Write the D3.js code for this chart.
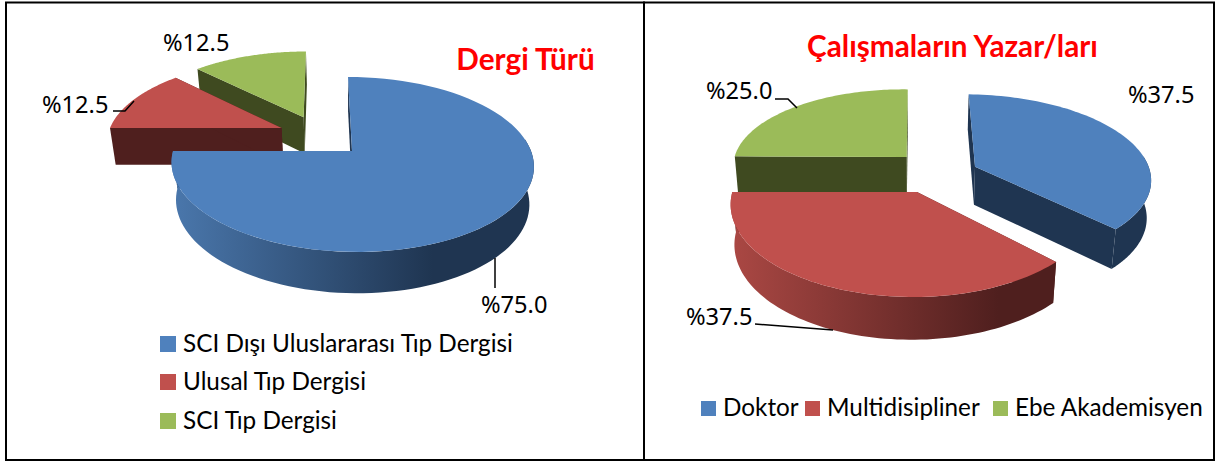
<!DOCTYPE html>
<html><head><meta charset="utf-8">
<script src="https://cdn.jsdelivr.net/npm/d3@7"></script>
<style>html,body{margin:0;padding:0;background:#fff}svg{display:block}</style>
</head><body><svg id="c" width="1215" height="461"></svg>
<script>
// ---- data ----
const leftCategories = ["SCI Dışı Uluslararası Tıp Dergisi", "Ulusal Tıp Dergisi", "SCI Tıp Dergisi"];
const leftValues = [75.0, 12.5, 12.5];
const rightCategories = ["Doktor", "Multidisipliner", "Ebe Akademisyen"];
const rightValues = [37.5, 37.5, 25.0];
const leftTitle = "Dergi Türü";
const rightTitle = "Çalışmaların Yazar/ları";
const valueFormat = v => "%" + d3.format(".1f")(v);

// ---- palette ----
const tops = ["#4F81BD", "#C0504D", "#9BBB59"];
const lights = ["#4A77AC", "#A94743", "#8aa650"];
const darks = ["#1F3551", "#4F1F1E", "#3F4A20"];

const font = "Lato, 'Open Sans', sans-serif";
const labelFont = "'Noto Sans', 'Open Sans', sans-serif";
const svg = d3.select("#c");
const defs = svg.append("defs");

// frames
[[6, 2.5, 638, 457.5], [644, 2.5, 570, 457.5]].forEach(([x, y, w, h]) =>
  svg.append("rect").attr("x", x).attr("y", y).attr("width", w).attr("height", h)
    .attr("fill", "none").attr("stroke", "#000").attr("stroke-width", 2));

const pieGen = d3.pie().sort(null).value(d => d);
const lineGen = d3.line();

function drawPie3D(id, values, cfg) {
  const arcs = pieGen(values);
  const project = (x, y, z) => {
    const w = 1 - cfg.k * y + cfg.j * x + cfg.m * z;
    return [cfg.cx + (cfg.R * x + cfg.skew * y) / w, cfg.cy + (cfg.S * y + cfg.H * z) / w];
  };
  const gid = i => `${id}-wall-${i}`;
  arcs.forEach((a, i) => {
    const g = defs.append("linearGradient").attr("id", gid(i)).attr("gradientUnits", "userSpaceOnUse")
      .attr("x1", cfg.cx - cfg.R).attr("x2", cfg.cx + cfg.R * 0.45).attr("y1", 0).attr("y2", 0);
    g.append("stop").attr("offset", 0).attr("stop-color", lights[i]);
    g.append("stop").attr("offset", 1).attr("stop-color", darks[i]);
  });
  cfg.order.forEach(i => {
    const a = arcs[i], e = cfg.slices[i];
    const point = (t, r, z) => project(e.ox + r * e.sx * Math.sin(t), e.oy - r * e.sy * Math.cos(t), z);
    const rim = (t0, t1, z) => d3.range(0, 81).map(n => point(t0 + (t1 - t0) * n / 80, 1, z));
    const g = svg.append("g").attr("class", "slice");
    // inner faces
    [a.startAngle, a.endAngle].forEach(t => {
      g.append("path").attr("fill", darks[i])
        .attr("d", lineGen([point(t, 0, 0), point(t, 1, 0), point(t, 1, 1), point(t, 0, 1)]) + "Z");
    });
    // outer wall, front-facing part only
    const w0 = Math.max(a.startAngle, 82 * Math.PI / 180), w1 = Math.min(a.endAngle, 270 * Math.PI / 180);
    if (w1 > w0) {
      g.append("path").attr("fill", `url(#${gid(i)})`)
        .attr("d", lineGen(rim(w0, w1, 0).concat(rim(w0, w1, 1).reverse())) + "Z");
    }
    // top surface
    g.append("path").attr("fill", tops[i])
      .attr("d", lineGen([point(a.startAngle, 0, 0)].concat(rim(a.startAngle, a.endAngle, 0))) + "Z");
  });
}

drawPie3D("L", leftValues, {
  cx: 352, cy: 151, R: 179, S: 85.4, H: 38.5, k: 0.154, j: 0, m: 0.025, skew: 4.6,
  order: [2, 1, 0],
  slices: [{ ox: 0, oy: 0, sx: 1, sy: 1 }, { ox: -0.403, oy: -0.28, sx: 1, sy: 1 }, { ox: -0.277, oy: -0.42, sx: 1, sy: 1 }]
});
drawPie3D("R", rightValues, {
  cx: 917, cy: 192, R: 181, S: 91, H: 40, k: 0.133, j: 0.02, m: 0.02, skew: 0,
  order: [2, 0, 1],
  slices: [{ ox: 0.335, oy: -0.29, sx: 1.03, sy: 0.97 }, { ox: 0, oy: 0, sx: 1, sy: 1 }, { ox: -0.06, oy: -0.405, sx: 0.98, sy: 0.92 }]
});

// leader lines
const leaders = [
  [[495, 258], [495, 288]],
  [[113, 111], [125, 111], [134, 101]],
  [[775, 99], [788, 99], [797, 108]],
  [[755, 324], [833, 330]]
];
leaders.forEach(p => svg.append("path").attr("d", lineGen(p)).attr("fill", "none").attr("stroke", "#000").attr("stroke-width", 1.5));

// value labels
const labels = [
  [leftValues[0], 481, 313], [leftValues[1], 42, 113], [leftValues[2], 163, 51],
  [rightValues[0], 1128, 103], [rightValues[1], 686, 325], [rightValues[2], 706, 99]
];
labels.forEach(([v, x, y]) => svg.append("text").attr("x", x).attr("y", y)
  .attr("font-family", labelFont).attr("font-size", 23.6).attr("fill", "#000").text(valueFormat(v)));

// titles
[[leftTitle, 525.5, 70], [rightTitle, 952.5, 57]].forEach(([t, x, y]) =>
  svg.append("text").attr("x", x).attr("y", y).attr("text-anchor", "middle")
    .attr("font-family", font).attr("font-weight", 700).attr("font-size", 29.7).attr("fill", "#FF0000").text(t));

// legends
leftCategories.forEach((c, i) => {
  const y = [344, 382, 421][i];
  svg.append("rect").attr("x", 160).attr("y", y - 8).attr("width", 16).attr("height", 16).attr("fill", tops[i]);
  svg.append("text").attr("x", 183).attr("y", y + 8).attr("font-family", font).attr("font-size", 24.3).attr("fill", "#000").text(c);
});
rightCategories.forEach((c, i) => {
  const mx = [701, 805, 993][i];
  svg.append("rect").attr("x", mx).attr("y", 401).attr("width", 15).attr("height", 15).attr("fill", tops[i]);
  svg.append("text").attr("x", mx + 22).attr("y", 416).attr("font-family", font).attr("font-size", 24.3).attr("fill", "#000").text(c);
});
</script></body></html>
